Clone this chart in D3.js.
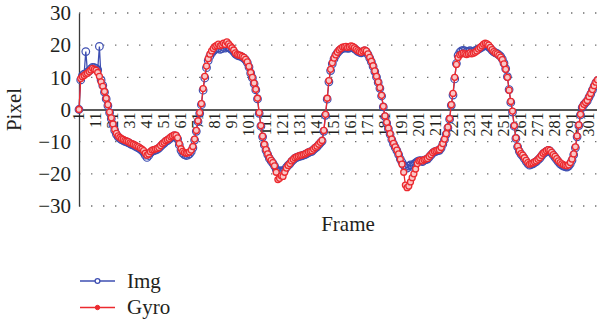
<!DOCTYPE html>
<html>
<head>
<meta charset="utf-8">
<script src="https://cdn.jsdelivr.net/npm/d3@7"></script>
<style>
  html, body { margin: 0; padding: 0; background: #fff; }
  svg { display: block; }
  text { font-family: "Liberation Serif", "DejaVu Serif", serif; fill: #231f20; }
</style>
</head>
<body>
<svg id="chart" width="597" height="321"></svg>
<script>
// ---- data ----
const seriesNames = ["Img", "Gyro"];
const xTickLabels = d3.range(1, 302, 10);
const yTickValues = [-30, -20, -10, 0, 10, 20, 30];

const imgValues = [
0, 9.2, 10.5, 11, 18, 11.6, 12, 12.6, 13.1, 13,
12.8, 12.3, 19.6, 9.2, 7.5, 5.4, 3.3, 1.2, -1, -2.9,
-4.8, -6.5, -7.7, -8.5, -9, -9.4, -9.6, -9.9, -10.1, -10.3,
-10.6, -10.9, -11.1, -11.4, -11.7, -11.9, -12.3, -12.7, -13.3, -14.2,
-14.9, -14.3, -13.5, -13, -12.8, -12.6, -12.4, -12, -11.5, -10.9,
-10.5, -10, -9.7, -9.3, -8.8, -8.5, -8.2, -8.3, -9.2, -11,
-12.7, -13.6, -14, -14.3, -14.2, -13.8, -13.1, -11.9, -9.5, -6.8,
-3.8, -1.2, 1.5, 6, 9.8, 13, 15.2, 16.6, 17.5, 18.2,
18.6, 18.9, 19.1, 18.7, 18.9, 19.3, 19.1, 19.5, 19.2, 18.9,
18.5, 18, 17.3, 16.9, 16.7, 16.6, 16.3, 16, 15.4, 14.6,
13.2, 11.3, 9.8, 8, 6.1, 3.3, -1.2, -5.2, -8.5, -11,
-12.7, -14, -15.2, -16, -16.7, -17.5, -18.6, -19.3, -19.2, -19,
-19.3, -18.8, -18, -17.4, -16.9, -16.2, -15.7, -15.2, -14.9, -14.7,
-14.5, -14.4, -14.2, -14, -13.7, -13.4, -13.2, -13, -12.5, -12,
-11.6, -11, -10.4, -9.8, -6.8, -1.8, 3.2, 8.6, 12.1, 14.2,
15.7, 16.8, 17.6, 18.2, 18.7, 19, 19.1, 19.2, 19, 19.1,
19.3, 19.2, 18.9, 18.5, 18.1, 17.8, 17.6, 17.9, 18.2, 17.9,
17.1, 16, 14.8, 13.4, 11.8, 10.1, 8.4, 6.6, 4.2, 0.8,
-2.2, -4.2, -6, -7.7, -9.4, -10.7, -11.8, -12.8, -14, -15.4,
-16.4, -17.3, -17.8, -18.2, -17.6, -17.2, -17.7, -17, -16.6, -16.2,
-16, -15.9, -16.2, -15.8, -15.6, -15.4, -14.8, -14.2, -13.6, -13.2,
-13, -12.8, -12.7, -12, -10.8, -9.4, -7.7, -5.7, -3, 1.3,
4.5, 9.5, 14.3, 16.8, 17.8, 18.2, 18.4, 18.2, 18, 18.1,
18.3, 18, 18.1, 18.3, 18.5, 18.8, 19.1, 19.4, 19.7, 19.9,
19.8, 19.5, 19, 18.4, 17.9, 17.6, 17.4, 17, 16.5, 15.7,
14.4, 12.7, 10.2, 6.2, 2.2, -0.8, -5.2, -9, -11.6, -13,
-13.9, -14.5, -15.3, -16.1, -16.8, -17.3, -17.1, -16.9, -16.5, -16.2,
-15.7, -15.2, -14.5, -13.8, -13.4, -13, -12.7, -12.9, -13.5, -14.2,
-14.9, -15.6, -16.3, -16.9, -17.3, -17.6, -17.8, -17.9, -17.6, -16.9,
-15.8, -14.1, -11.9, -8.5, -5, -1.7, 0.6, 1.5, 2.1, 2.7,
3.8, 4.8, 6, 7.2, 8.3, 9
];

const gyroValues = [
0, 9.6, 10.2, 10.6, 11, 11.3, 11.8, 12.3, 12.8, 12.5,
12.2, 11.5, 10.3, 8.6, 7.2, 5.6, 3.5, 1.5, -0.8, -2.6,
-4.5, -6.2, -7.4, -8.2, -8.7, -9.1, -9.3, -9.6, -9.8, -10,
-10.4, -10.6, -10.8, -11.1, -11.4, -11.6, -12, -12.3, -12.8, -13.6,
-14.2, -13.8, -13.1, -12.6, -12.5, -12.3, -12.1, -11.8, -11.2, -10.6,
-10.2, -9.7, -9.4, -9, -8.5, -8.2, -7.9, -8, -8.8, -10.6,
-12.2, -13, -13.4, -13.6, -13.5, -13.2, -12.6, -11.5, -9.2, -6.5,
-3.5, -1, 1.8, 6.5, 10.3, 13.5, 15.8, 17.2, 18.2, 19,
19.6, 19.9, 20.3, 19.8, 20.1, 20.6, 20.2, 21, 20.4, 19.8,
19.2, 18.5, 17.6, 17.1, 16.9, 16.8, 16.5, 16.2, 15.6, 14.8,
13.4, 11.5, 10, 8.2, 6.3, 3.5, -1, -5, -8.3, -10.8,
-12.5, -13.8, -15, -15.8, -16.5, -17.5, -19.5, -21.8, -21.4, -20.6,
-20.8, -19.5, -18.2, -17.4, -16.8, -16, -15.5, -15, -14.7, -14.5,
-14.3, -14.2, -14, -13.8, -13.5, -13.2, -13, -12.8, -12.3, -11.8,
-11.4, -10.8, -10.2, -9.6, -6.5, -1.5, 3.5, 9, 12.5, 14.5,
16, 17, 17.8, 18.5, 19, 19.4, 19.5, 19.6, 19.3, 19.5,
19.8, 19.6, 19.2, 18.7, 18.3, 18, 17.8, 18.2, 18.5, 18.2,
17.3, 16.2, 15, 13.6, 12, 10.3, 8.6, 6.8, 4.4, 1,
-2, -4, -5.8, -7.5, -9.2, -10.5, -11.6, -12.6, -13.8, -15.5,
-17, -19.5, -23.5, -24.3, -23.8, -22.5, -21.2, -20, -18.5, -16.8,
-16, -15.8, -16, -15.6, -15.4, -15.2, -14.6, -14, -13.4, -13,
-12.8, -12.6, -12.5, -11.8, -10.6, -9.2, -7.5, -5.5, -2.8, 1.5,
5, 10, 14, 16.2, 17, 17.3, 17.5, 17.3, 17.1, 17.3,
17.6, 17.3, 17.5, 17.8, 18.2, 18.8, 19.3, 19.8, 20.3, 20.6,
20.4, 20, 19.3, 18.6, 18, 17.6, 17.3, 16.8, 16.3, 15.5,
14.2, 12.5, 10, 6, 2.5, -0.5, -5, -8.8, -11.4, -12.8,
-13.7, -14.2, -15, -15.8, -16.5, -17, -16.8, -16.6, -16.3, -16,
-15.5, -15, -14.3, -13.6, -13.2, -12.8, -12.5, -12.7, -13.3, -14,
-14.6, -15.3, -16, -16.5, -16.9, -17.2, -17.4, -17.5, -17.2, -16.5,
-15.4, -13.8, -11.6, -8.2, -4.8, -1.5, 0.8, 1.6, 2.2, 2.8,
4, 5, 6.2, 7.4, 8.5, 9.2
];

// ---- layout ----
const W = 597, H = 321;
const plot = { left: 79, right: 597.5, top: 13, bottom: 206 };
const colors = { Img: "#3e4fb2", Gyro: "#ec2a2f" };

const svg = d3.select("#chart");
const nFrames = gyroValues.length;

const x = d3.scaleLinear().domain([1, nFrames]).range([plot.left, plot.right]);
const y = d3.scaleLinear().domain([-30, 30]).range([plot.bottom, plot.top]);

// dotted gridlines
svg.append("g").selectAll("line")
  .data(yTickValues.filter(v => v !== 0))
  .join("line")
  .attr("x1", plot.left).attr("x2", W)
  .attr("y1", d => y(d)).attr("y2", d => y(d))
  .attr("stroke", "#707070").attr("stroke-width", 1.4)
  .attr("stroke-dasharray", "1.4 10.6");

// y axis
const yAxis = svg.append("g")
  .attr("transform", `translate(${plot.left},0)`)
  .call(d3.axisLeft(y).tickValues(yTickValues).tickSize(0).tickPadding(8)
        .tickFormat(d => d3.format("")(d).replace("-", "\u2212")));
yAxis.select(".domain").attr("stroke", "#3a3a3a").attr("stroke-width", 1.3);
yAxis.selectAll("text").attr("font-size", 21).attr("fill", "#231f20")
  .attr("font-family", "Liberation Serif, serif");

// x axis at zero
const xAxis = svg.append("g")
  .attr("transform", `translate(0,${y(0)})`)
  .call(d3.axisBottom(x).tickValues(xTickLabels).tickSize(0).tickFormat(d3.format("d")));
xAxis.select(".domain").attr("d", `M${plot.left},0.5H${W}`)
  .attr("stroke", "#222").attr("stroke-width", 1.4);
xAxis.selectAll(".tick text")
  .attr("font-size", 16).attr("fill", "#231f20")
  .attr("font-family", "Liberation Serif, serif")
  .attr("text-anchor", "end")
  .attr("y", 0).attr("dy", "0.26em")
  .attr("transform", "translate(0,3) rotate(-90)");

// series
const line = d3.line().x((d, i) => x(i + 1)).y(d => y(d));

svg.append("path").datum(imgValues)
  .attr("d", line).attr("fill", "none")
  .attr("stroke", colors.Img).attr("stroke-width", 1.3);
svg.append("g").selectAll("circle").data(imgValues).join("circle")
  .attr("cx", (d, i) => x(i + 1)).attr("cy", d => y(d)).attr("r", 3.8)
  .attr("fill", "none").attr("stroke", colors.Img).attr("stroke-width", 1.2);

svg.append("path").datum(gyroValues)
  .attr("d", line).attr("fill", "none")
  .attr("stroke", colors.Gyro).attr("stroke-width", 1.3);
svg.append("g").selectAll("circle").data(gyroValues).join("circle")
  .attr("cx", (d, i) => x(i + 1)).attr("cy", d => y(d)).attr("r", 3)
  .attr("fill", "#f9c7c7").attr("stroke", colors.Gyro).attr("stroke-width", 1.3);

// axis titles
svg.append("text").attr("x", 348).attr("y", 231)
  .attr("text-anchor", "middle").attr("font-size", 21).text("Frame");
svg.append("text")
  .attr("transform", `translate(21,${y(0)}) rotate(-90)`)
  .attr("text-anchor", "middle").attr("font-size", 21).text("Pixel");

// legend
const legend = svg.append("g");
seriesNames.forEach((name, i) => {
  const ly = 281 + i * 26.5;
  const g = legend.append("g");
  g.append("line").attr("x1", 80).attr("x2", 115).attr("y1", ly).attr("y2", ly)
    .attr("stroke", colors[name]).attr("stroke-width", 1.4);
  if (name === "Img") {
    g.append("circle").attr("cx", 97.5).attr("cy", ly).attr("r", 2.4)
      .attr("fill", "#fff").attr("stroke", colors[name]).attr("stroke-width", 1.3);
  } else {
    g.append("circle").attr("cx", 97.5).attr("cy", ly).attr("r", 2.2)
      .attr("fill", colors[name]).attr("stroke", colors[name]).attr("stroke-width", 1);
  }
  g.append("text").attr("x", 127).attr("y", ly + 6.5)
    .attr("font-size", 21).text(name);
});
</script>
</body>
</html>
